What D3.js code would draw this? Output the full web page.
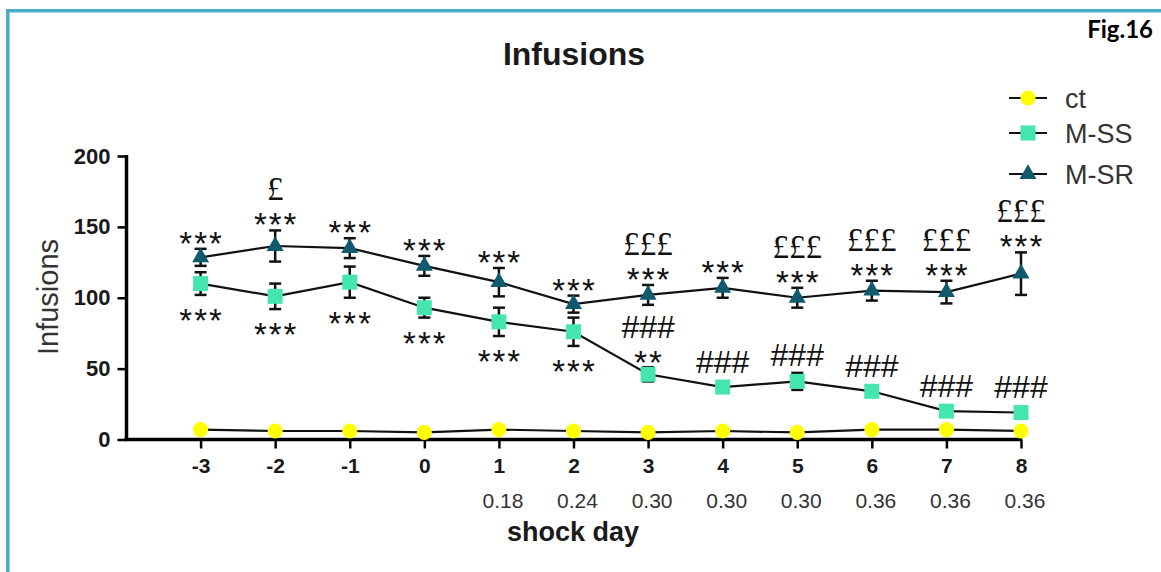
<!DOCTYPE html>
<html>
<head>
<meta charset="utf-8">
<script src="https://cdn.jsdelivr.net/npm/d3@7/dist/d3.min.js"></script>
<style>
html,body{margin:0;padding:0;background:#fff;}
svg{display:block;}
</style>
</head>
<body>
<svg id="chart" width="1161" height="572"></svg>
<script>
// ---- data ----
const days = [-3, -2, -1, 0, 1, 2, 3, 4, 5, 6, 7, 8];
const dayLabels = ["-3", "-2", "-1", "0", "1", "2", "3", "4", "5", "6", "7", "8"];
const doseLabels = ["", "", "", "", "0.18", "0.24", "0.30", "0.30", "0.30", "0.36", "0.36", "0.36"];
const ctMean = [7, 6, 6, 5, 7, 6, 5, 6, 5, 7, 7, 6];
const ssMean = [110, 101, 111, 93, 83, 76, 46, 37, 41, 34, 20, 19];
const ssSem  = [8, 9, 11, 7, 10, 10, 5, 2, 6, 2, 2, 2];
const srMean = [128.5, 136.5, 135, 122.5, 111, 95.5, 102, 107, 100, 105, 104, 117];
const srSem  = [6, 11, 7, 7, 10, 6, 7, 7, 7, 7, 8, 15];
const srStars  = ["***", "***", "***", "***", "***", "***", "***", "***", "***", "***", "***", "***"];
const srPounds = ["", "£", "", "", "", "", "£££", "", "£££", "£££", "£££", "£££"];
const ssStarsBelow = ["***", "***", "***", "***", "***", "***", "", "", "", "", "", ""];
const ssStarsAbove = ["", "", "", "", "", "", "**", "", "", "", "", ""];
const ssHashes = ["", "", "", "", "", "", "###", "###", "###", "###", "###", "###"];
const yTicks = [0, 50, 100, 150, 200];
const seriesNames = ["ct", "M-SS", "M-SR"];

// ---- setup ----
const svg = d3.select("#chart");
const x = d3.scaleLinear().domain([-4, 8]).range([126, 1021]);
const y = d3.scaleLinear().domain([0, 200]).range([439.5, 156]);

const colCt = "#ffff00", colSS = "#45e6ad", colSR = "#0f5a6c";
const symCircle = d3.symbol().type(d3.symbolCircle).size(180);
const symSquare = d3.symbol().type(d3.symbolSquare).size(225);
const symTri = d3.symbol().type(d3.symbolTriangle).size(125);

// border frame
svg.append("line").attr("x1", 6).attr("x2", 1161).attr("y1", 10.8).attr("y2", 10.8)
  .attr("stroke", "#4bacc6").attr("stroke-width", 3.6);
svg.append("line").attr("x1", 7.8).attr("x2", 7.8).attr("y1", 9).attr("y2", 572)
  .attr("stroke", "#4bacc6").attr("stroke-width", 3.6);

// title + fig label
svg.append("text").attr("x", 574).attr("y", 65).attr("text-anchor", "middle")
  .attr("font-family", "Liberation Sans, Arial, sans-serif").attr("font-weight", "bold")
  .attr("font-size", 32).attr("fill", "#1a1a1a").text("Infusions");
svg.append("text").attr("x", 1153).attr("y", 38).attr("text-anchor", "end")
  .attr("font-family", "Lato, sans-serif").attr("font-weight", "bold")
  .attr("font-size", 24).attr("fill", "#000").text("Fig.16");

// axes
const yAxis = d3.axisLeft(y).tickValues(yTicks).tickSize(9).tickPadding(7);
const gy = svg.append("g").attr("transform", "translate(126.5,0)").call(yAxis);
gy.select(".domain").attr("stroke", "#000").attr("stroke-width", 3.5).attr("d", `M0,${y(200)-1}V${y(0)}`);
gy.selectAll(".tick line").attr("stroke", "#000").attr("stroke-width", 2.5);
gy.selectAll(".tick text").attr("font-family", "Liberation Sans, Arial, sans-serif")
  .attr("font-weight", "bold").attr("font-size", 22).attr("fill", "#1a1a1a");

const xAxis = d3.axisBottom(x).tickValues(days).tickSize(9).tickPadding(10)
  .tickFormat(d => dayLabels[days.indexOf(d)]);
const gx = svg.append("g").attr("transform", `translate(0,${y(0)})`).call(xAxis);
gx.select(".domain").attr("stroke", "#000").attr("stroke-width", 3.5).attr("d", `M${x(-4)-1.5},0H${x(8)+1}`);
gx.selectAll(".tick line").attr("stroke", "#000").attr("stroke-width", 2.5);
gx.selectAll(".tick text").attr("font-family", "Liberation Sans, Arial, sans-serif")
  .attr("font-weight", "bold").attr("font-size", 21).attr("fill", "#1a1a1a");

// dose labels
svg.append("g").selectAll("text").data(days).join("text")
  .attr("x", d => x(d) + 4).attr("y", 508).attr("text-anchor", "middle")
  .attr("font-family", "Liberation Sans, Arial, sans-serif").attr("font-size", 21)
  .attr("fill", "#333").text((d, i) => doseLabels[i]);

// axis titles
svg.append("text").attr("x", 573).attr("y", 541).attr("text-anchor", "middle")
  .attr("font-family", "Liberation Sans, Arial, sans-serif").attr("font-weight", "bold")
  .attr("font-size", 27).attr("fill", "#1a1a1a").text("shock day");
svg.append("text").attr("transform", "translate(58,297) rotate(-90)").attr("text-anchor", "middle")
  .attr("font-family", "Liberation Sans, Arial, sans-serif").attr("font-size", 29)
  .attr("fill", "#333").text("Infusions");

// lines
const line = arr => d3.line().x((d, i) => x(days[i])).y(d => y(d))(arr);
[ctMean, ssMean, srMean].forEach(arr => {
  svg.append("path").attr("d", line(arr)).attr("fill", "none")
    .attr("stroke", "#111").attr("stroke-width", 2.2);
});

// error bars
function errBars(mean, sem) {
  const g = svg.append("g").attr("stroke", "#111").attr("stroke-width", 2.5).attr("fill", "none");
  days.forEach((d, i) => {
    const cx = x(d), y1 = y(mean[i] + sem[i]), y2 = y(mean[i] - sem[i]);
    g.append("line").attr("x1", cx).attr("x2", cx).attr("y1", y1).attr("y2", y2);
    g.append("line").attr("x1", cx - 6).attr("x2", cx + 6).attr("y1", y1).attr("y2", y1);
    g.append("line").attr("x1", cx - 6).attr("x2", cx + 6).attr("y1", y2).attr("y2", y2);
  });
}
errBars(ssMean, ssSem);
errBars(srMean, srSem);

// markers
svg.append("g").selectAll("path").data(ctMean).join("path")
  .attr("transform", (d, i) => `translate(${x(days[i])},${y(d)})`).attr("d", symCircle).attr("fill", colCt);
svg.append("g").selectAll("path").data(ssMean).join("path")
  .attr("transform", (d, i) => `translate(${x(days[i])},${y(d)})`).attr("d", symSquare).attr("fill", colSS);
svg.append("g").selectAll("path").data(srMean).join("path")
  .attr("transform", (d, i) => `translate(${x(days[i])},${y(d)})`).attr("d", symTri).attr("fill", colSR);

// annotations
const annFont = "Liberation Sans, Arial, sans-serif";
const ann = svg.append("g").attr("fill", "#111").attr("font-family", annFont).attr("text-anchor", "middle");
days.forEach((d, i) => {
  const cx = x(d);
  // M-SR: stars and pounds above
  const srTop = Math.min(y(srMean[i] + srSem[i]), y(srMean[i]) - 8);
  const starC = srTop - 13;
  if (srStars[i]) ann.append("text").attr("x", cx).attr("y", starC + 19).attr("font-size", 33)
    .attr("letter-spacing", 2).attr("dx", 1).text(srStars[i]);
  if (srPounds[i]) ann.append("text").attr("x", cx).attr("y", starC - 28 + 11)
    .attr("font-family", "Liberation Serif, Times New Roman, serif").attr("font-size", 33).text(srPounds[i]);
  // M-SS: stars below
  const ssBot = Math.max(y(ssMean[i] - ssSem[i]), y(ssMean[i]) + 8);
  if (ssStarsBelow[i]) ann.append("text").attr("x", cx).attr("y", ssBot + 18 + 19).attr("font-size", 33)
    .attr("letter-spacing", 2).attr("dx", 1).text(ssStarsBelow[i]);
  // M-SS: above
  const ssTop = Math.min(y(ssMean[i] + ssSem[i]), y(ssMean[i]) - 8);
  let c = ssTop - 18;
  if (ssStarsAbove[i]) {
    c = ssTop - 11;
    ann.append("text").attr("x", cx).attr("y", c + 19).attr("font-size", 33)
      .attr("letter-spacing", 2).attr("dx", 1).text(ssStarsAbove[i]);
    c -= 29;
  }
  if (ssHashes[i]) ann.append("text").attr("x", cx).attr("y", c + 11.5).attr("font-size", 32).text(ssHashes[i]);
});

// legend
const legY = [98, 133, 174];
const legSyms = [symCircle, symSquare, symTri];
const legCols = [colCt, colSS, colSR];
const leg = svg.append("g");
seriesNames.forEach((n, i) => {
  leg.append("line").attr("x1", 1009).attr("x2", 1047).attr("y1", legY[i]).attr("y2", legY[i])
    .attr("stroke", "#111").attr("stroke-width", 2.2);
  leg.append("path").attr("transform", `translate(1028,${legY[i]})`).attr("d", legSyms[i]).attr("fill", legCols[i]);
  leg.append("text").attr("x", 1065).attr("y", legY[i] + 9.5)
    .attr("font-family", "Liberation Sans, Arial, sans-serif").attr("font-size", 27)
    .attr("fill", "#333").text(n);
});
</script>
</body>
</html>
